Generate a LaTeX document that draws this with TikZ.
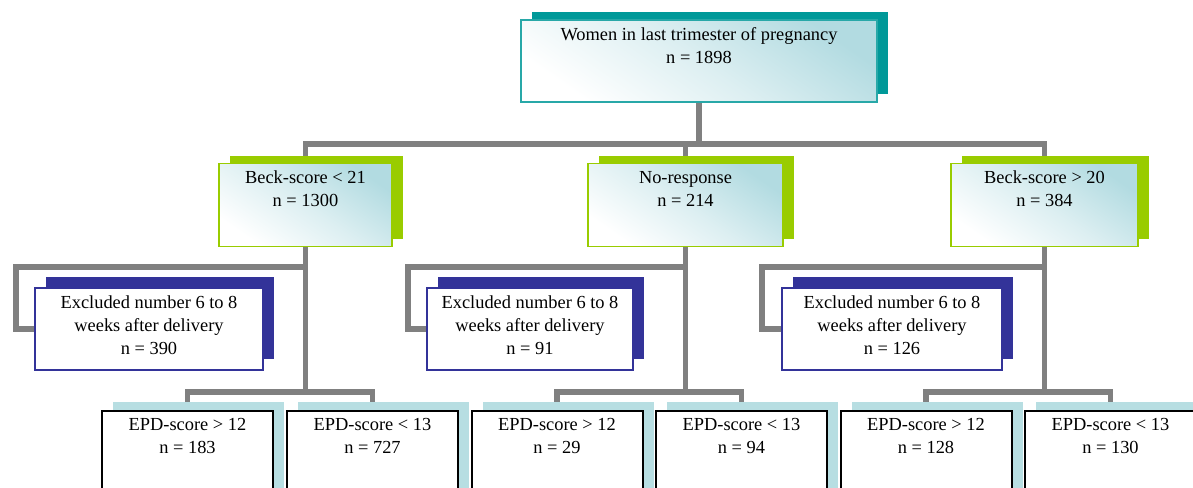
\documentclass[tikz,border=0pt]{standalone}
\usepackage{fontspec}
\setmainfont{Liberation Serif}
\usepackage{tikz}
\usetikzlibrary{positioning,shadows,backgrounds}
\definecolor{tealdark}{RGB}{0,153,153}
\definecolor{tealline}{RGB}{40,168,168}
\definecolor{limegreen}{RGB}{153,204,0}
\definecolor{navyblue}{RGB}{51,51,153}
\definecolor{paleblue}{RGB}{183,222,226}
\definecolor{shadeblue}{RGB}{178,219,225}
\definecolor{linkgray}{RGB}{128,128,128}
\tikzset{
  boxsize/.style 2 args={minimum width=#1*0.75pt, minimum height=#2*0.75pt},
  frame/.style={rectangle, inner sep=0pt, outer sep=0pt},
  glow/.style={top color=shadeblue, bottom color=white, middle color=white!55!shadeblue, shading angle=-35},
  topbox/.style={frame, glow, draw=tealline, line width=1.2pt,
    drop shadow={fill=tealdark, opacity=1, shadow xshift=8.25pt, shadow yshift=6pt}},
  beckbox/.style={frame, glow, draw=limegreen, line width=1.4pt,
    drop shadow={fill=limegreen, opacity=1, shadow xshift=8.25pt, shadow yshift=5.5pt}},
  exclbox/.style={frame, fill=white, draw=navyblue, line width=1.2pt,
    drop shadow={fill=navyblue, opacity=1, shadow xshift=8.25pt, shadow yshift=8pt}},
  epdbox/.style={frame, fill=white, draw=black, line width=1.5pt,
    drop shadow={fill=paleblue, opacity=1, shadow xshift=8.25pt, shadow yshift=6.75pt}},
  boxtext/.style={font=\fontsize{13.8}{17.25}\selectfont, align=center, inner sep=0pt},
  link/.style={draw=linkgray, line width=4.1pt}
}
\begin{document}
\begin{tikzpicture}[x=0.75pt,y=-0.75pt]
  \useasboundingbox (0,0) rectangle (1193,488);
  % top
  \node[topbox, boxsize={356}{82}] (women) at (699,61) {};
  \node[boxtext, below=5.5pt of women.north] (womentxt) {Women in last trimester of pregnancy\\n = 1898};
  % Beck groups
  \node[beckbox, boxsize={173}{83}] (low) at (305.5,205) {};
  \node[beckbox, boxsize={195}{83}] (nores) at (685.5,205) {};
  \node[beckbox, boxsize={187}{83}] (high) at (1044.5,205) {};
  \node[boxtext, below=5.5pt of low.north] (lowtxt) {Beck-score < 21\\n = 1300};
  \node[boxtext, below=5.5pt of nores.north] (norestxt) {No-response\\n = 214};
  \node[boxtext, below=5.5pt of high.north] (hightxt) {Beck-score > 20\\n = 384};
  % excluded
  \node[exclbox, boxsize={228}{82}] (exlow) at (149,329) {};
  \node[exclbox, boxsize={206}{82}] (exnores) at (530,329) {};
  \node[exclbox, boxsize={220}{82}] (exhigh) at (892,329) {};
  \node[boxtext, below=5.5pt of exlow.north] (exlowtxt) {Excluded number 6 to 8\\weeks after delivery\\n = 390};
  \node[boxtext, below=5.5pt of exnores.north] (exnorestxt) {Excluded number 6 to 8\\weeks after delivery\\n = 91};
  \node[boxtext, below=5.5pt of exhigh.north] (exhightxt) {Excluded number 6 to 8\\weeks after delivery\\n = 126};
  % EPD
  \node[epdbox, boxsize={171}{110}] (lowpos) at (187.5,466) {};
  \node[epdbox, boxsize={171}{110}] (lowneg) at (372.5,466) {};
  \node[epdbox, boxsize={171}{110}] (norespos) at (557,466) {};
  \node[epdbox, boxsize={171}{110}] (noresneg) at (741.5,466) {};
  \node[epdbox, boxsize={171}{110}] (highpos) at (926,466) {};
  \node[epdbox, boxsize={171}{110}] (highneg) at (1110.5,466) {};
  \node[boxtext, below=5.5pt of lowpos.north] (lowpostxt) {EPD-score > 12\\n = 183};
  \node[boxtext, below=5.5pt of lowneg.north] (lownegtxt) {EPD-score < 13\\n = 727};
  \node[boxtext, below=5.5pt of norespos.north] (norespostxt) {EPD-score > 12\\n = 29};
  \node[boxtext, below=5.5pt of noresneg.north] (noresnegtxt) {EPD-score < 13\\n = 94};
  \node[boxtext, below=5.5pt of highpos.north] (highpostxt) {EPD-score > 12\\n = 128};
  \node[boxtext, below=5.5pt of highneg.north] (highnegtxt) {EPD-score < 13\\n = 130};
  % connectors
  \begin{scope}[on background layer]
    \coordinate (bustop) at (0,144);
    \coordinate (buslow) at (0,392);
    \coordinate (turnlow) at (16,267);
    \coordinate (turnnores) at (408,267);
    \coordinate (turnhigh) at (762,267);
    \draw[link] (women.south) -- (women.south |- bustop);
    \draw[link] (low.north) -- (low.north |- bustop) -- (high.north |- bustop) -- (high.north);
    \draw[link] (nores.north) -- (nores.north |- bustop);
    \draw[link] (low.south) -- (low.south |- buslow);
    \draw[link] (nores.south) -- (nores.south |- buslow);
    \draw[link] (high.south) -- (high.south |- buslow);
    \draw[link] (low.south |- turnlow) -- (turnlow) |- (exlow.west);
    \draw[link] (nores.south |- turnnores) -- (turnnores) |- (exnores.west);
    \draw[link] (high.south |- turnhigh) -- (turnhigh) |- (exhigh.west);
    \draw[link] (lowpos.north) -- (lowpos.north |- buslow) -- (lowneg.north |- buslow) -- (lowneg.north);
    \draw[link] (norespos.north) -- (norespos.north |- buslow) -- (noresneg.north |- buslow) -- (noresneg.north);
    \draw[link] (highpos.north) -- (highpos.north |- buslow) -- (highneg.north |- buslow) -- (highneg.north);
  \end{scope}
\end{tikzpicture}
\end{document}
